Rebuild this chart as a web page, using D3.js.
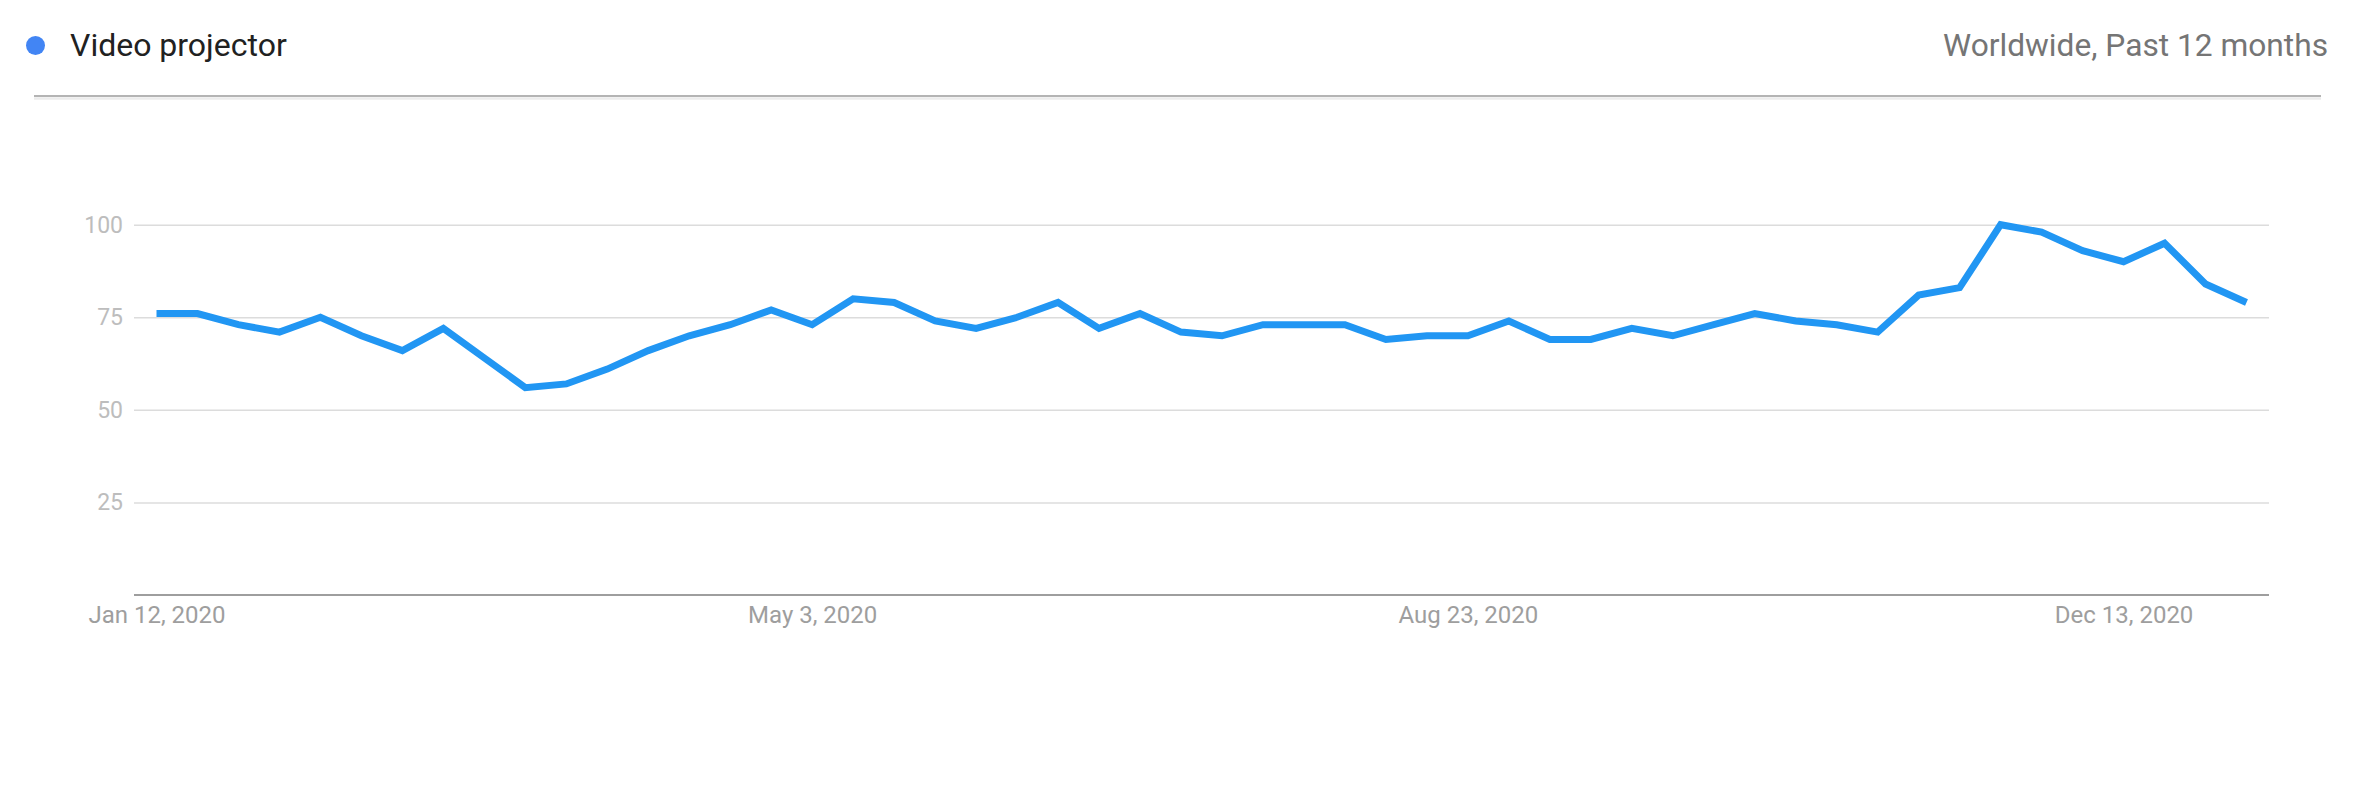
<!DOCTYPE html>
<html>
<head>
<meta charset="utf-8">
<script src="https://cdn.jsdelivr.net/npm/d3@7"></script>
<style>
  html, body { margin: 0; padding: 0; background: #ffffff; }
  svg { display: block; font-family: Roboto, "Noto Sans", Arial, sans-serif; }
</style>
</head>
<body>
<svg id="chart" width="2358" height="798"></svg>
<script>
// ---- data ----
const seriesName = "Video projector";
const regionLabel = "Worldwide, Past 12 months";
const weeks = [
  "2020-01-12","2020-01-19","2020-01-26","2020-02-02","2020-02-09","2020-02-16","2020-02-23",
  "2020-03-01","2020-03-08","2020-03-15","2020-03-22","2020-03-29","2020-04-05","2020-04-12",
  "2020-04-19","2020-04-26","2020-05-03","2020-05-10","2020-05-17","2020-05-24","2020-05-31",
  "2020-06-07","2020-06-14","2020-06-21","2020-06-28","2020-07-05","2020-07-12","2020-07-19",
  "2020-07-26","2020-08-02","2020-08-09","2020-08-16","2020-08-23","2020-08-30","2020-09-06",
  "2020-09-13","2020-09-20","2020-09-27","2020-10-04","2020-10-11","2020-10-18","2020-10-25",
  "2020-11-01","2020-11-08","2020-11-15","2020-11-22","2020-11-29","2020-12-06","2020-12-13",
  "2020-12-20","2020-12-27","2021-01-03"
];
const values = [
  76,76,73,71,75,70,66,72,64,56,57,61,66,70,73,77,73,80,79,74,72,75,79,72,76,71,
  70,73,73,73,69,70,70,74,69,69,72,70,73,76,74,73,71,81,83,100,98,93,90,95,84,79
];
const xTickLabels = ["2020-01-12","2020-05-03","2020-08-23","2020-12-13"];
const yTicks = [25, 50, 75, 100];

// ---- layout ----
const svg = d3.select("#chart");
const parse = d3.timeParse("%Y-%m-%d");
const data = weeks.map((w, i) => ({ date: parse(w), value: values[i] }));

const plotLeft = 134, plotRight = 2269, plotTop = 224.7, plotBottom = 595;
const pad = 22.5;

const x = d3.scaleTime()
  .domain(d3.extent(data, d => d.date))
  .range([plotLeft + pad, plotRight - pad]);
const y = d3.scaleLinear().domain([0, 100]).range([plotBottom, plotTop]);

// ---- header ----
svg.append("circle").attr("cx", 35.5).attr("cy", 45.5).attr("r", 9.5).attr("fill", "#4285f4");
svg.append("text").attr("x", 70).attr("y", 56)
  .attr("font-size", 32).attr("fill", "#212121").text(seriesName);
svg.append("text").attr("x", 2328).attr("y", 56).attr("text-anchor", "end")
  .attr("font-size", 31.7).attr("fill", "#757575").text(regionLabel);
svg.append("line").attr("x1", 34).attr("x2", 2321).attr("y1", 98.5).attr("y2", 98.5)
  .attr("stroke", "#ececec").attr("stroke-width", 2.5);
svg.append("line").attr("x1", 34).attr("x2", 2321).attr("y1", 96).attr("y2", 96)
  .attr("stroke", "#b4b4b4").attr("stroke-width", 2);

// ---- y axis / gridlines ----
const yAxis = d3.axisLeft(y)
  .tickValues(yTicks)
  .tickSize(-(plotRight - plotLeft))
  .tickPadding(11);
const gy = svg.append("g").attr("transform", `translate(${plotLeft},0)`).call(yAxis);
gy.select(".domain").remove();
gy.selectAll(".tick line").attr("stroke", "#dcdcdc").attr("stroke-width", 1.5);
gy.selectAll(".tick text").attr("fill", "#bdbdbd").attr("font-size", 23)
  .attr("font-family", "Roboto, sans-serif");

// ---- x axis ----
const xAxis = d3.axisBottom(x)
  .tickValues(xTickLabels.map(parse))
  .tickSize(0)
  .tickPadding(11)
  .tickFormat(d3.timeFormat("%b %-d, %Y"));
const gx = svg.append("g").attr("transform", `translate(0,${plotBottom})`).call(xAxis);
gx.select(".domain").remove();
gx.append("line").attr("x1", plotLeft).attr("x2", plotRight).attr("y1", 0).attr("y2", 0)
  .attr("stroke", "#9e9e9e").attr("stroke-width", 2);
gx.selectAll(".tick text").attr("fill", "#9e9e9e").attr("font-size", 24)
  .attr("font-family", "Roboto, sans-serif");

// ---- line ----
const line = d3.line().x(d => x(d.date)).y(d => y(d.value));
svg.append("path").datum(data)
  .attr("d", line)
  .attr("fill", "none")
  .attr("stroke", "#2196f3")
  .attr("stroke-width", 7)
  .attr("stroke-linejoin", "miter");
</script>
</body>
</html>
